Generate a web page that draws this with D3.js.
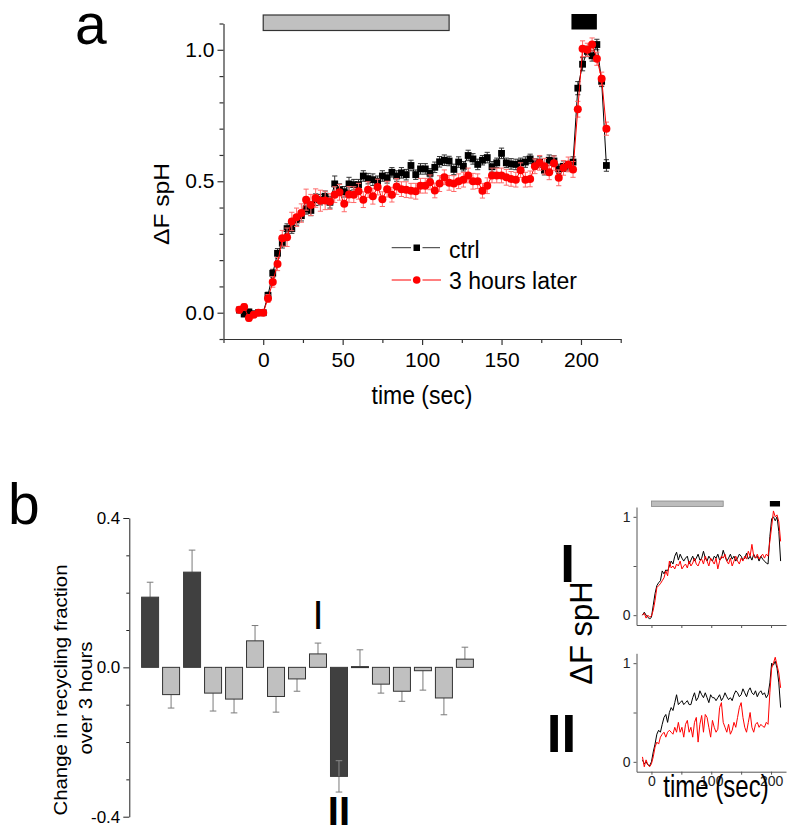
<!DOCTYPE html>
<html><head><meta charset="utf-8">
<script src="https://cdn.jsdelivr.net/npm/d3@7/dist/d3.min.js"></script>
<style>body{margin:0;background:#fff} svg{display:block} text{font-family:"Liberation Sans",Arial,Helvetica,sans-serif}</style>
</head><body><svg id="c" width="800" height="837"></svg>
<script>
// ---------- DATA ----------
const time = [-15,-12,-9,-6,-3,0,3,6,9,12,
  15,18,21,24,27,30,33,36,39,42,
  45,48,51,54,57,60,63,66,69,72,
  75,78,81,84,87,90,93,96,99,102,
  105,108,111,114,117,120,123,126,129,132,
  135,138,141,144,147,150,153,156,159,162,
  165,168,171,174,177,180,183,186,189,192,
  195,198,201,204,207,210,213,216];
const ctrl = [0.010,-0.005,0.003,-0.004,0.000,0.000,0.066,0.150,0.226,0.264,
  0.320,0.320,0.353,0.369,0.395,0.389,0.430,0.430,0.443,0.420,
  0.490,0.468,0.460,0.490,0.487,0.487,0.520,0.510,0.506,0.500,
  0.520,0.513,0.534,0.520,0.532,0.525,0.560,0.525,0.547,0.547,
  0.530,0.553,0.574,0.580,0.577,0.545,0.573,0.557,0.598,0.585,
  0.564,0.580,0.590,0.555,0.570,0.606,0.570,0.566,0.564,0.570,
  0.573,0.585,0.566,0.573,0.542,0.580,0.577,0.547,0.557,0.557,
  0.573,0.854,0.945,0.994,0.977,1.020,0.880,0.560];
const ctrlErr = [0.010,0.010,0.010,0.008,0.008,0.008,0.012,0.015,0.018,0.018,
  0.018,0.018,0.020,0.020,0.020,0.020,0.022,0.020,0.020,0.022,
  0.030,0.022,0.020,0.025,0.020,0.020,0.020,0.020,0.022,0.020,
  0.020,0.020,0.018,0.020,0.020,0.020,0.020,0.018,0.020,0.020,
  0.018,0.020,0.020,0.020,0.018,0.020,0.020,0.018,0.020,0.020,
  0.020,0.018,0.020,0.020,0.018,0.020,0.018,0.020,0.020,0.018,
  0.020,0.018,0.020,0.020,0.018,0.020,0.020,0.018,0.020,0.018,
  0.020,0.025,0.025,0.020,0.020,0.020,0.020,0.022];
const later = [0.011,0.022,-0.020,-0.008,0.000,0.000,0.054,0.117,0.185,0.283,
  0.287,0.347,0.363,0.379,0.430,0.410,0.436,0.426,0.427,0.423,
  0.449,0.458,0.414,0.450,0.449,0.462,0.430,0.468,0.443,0.478,
  0.432,0.470,0.449,0.480,0.470,0.468,0.464,0.462,0.483,0.483,
  0.496,0.465,0.491,0.515,0.494,0.491,0.500,0.506,0.522,0.500,
  0.500,0.464,0.483,0.522,0.522,0.522,0.515,0.509,0.506,0.542,
  0.506,0.509,0.557,0.570,0.557,0.534,0.568,0.513,0.551,0.564,
  0.545,0.774,1.004,1.000,1.020,0.966,0.890,0.700];
const laterErr = [0.012,0.012,0.012,0.010,0.010,0.010,0.015,0.020,0.025,0.030,
  0.035,0.035,0.035,0.035,0.040,0.040,0.035,0.040,0.035,0.030,
  0.030,0.030,0.030,0.030,0.030,0.030,0.030,0.030,0.030,0.030,
  0.028,0.030,0.028,0.030,0.028,0.030,0.028,0.030,0.028,0.028,
  0.028,0.028,0.030,0.028,0.028,0.030,0.028,0.028,0.028,0.030,
  0.028,0.028,0.030,0.028,0.028,0.028,0.030,0.028,0.028,0.028,
  0.028,0.030,0.028,0.028,0.030,0.028,0.028,0.030,0.028,0.028,
  0.030,0.030,0.030,0.025,0.025,0.025,0.025,0.025];

const yTicksA = [0.0, 0.5, 1.0];
const xTicksA = [0, 50, 100, 150, 200];

// panel b
const cells = ["c1","c2","c3","c4","c5","c6","c7","c8","c9","c10","c11","c12","c13","c14","c15","c16"];
const change = [0.188,-0.073,0.255,-0.069,-0.085,0.071,-0.078,-0.031,0.036,-0.292,0.002,-0.045,-0.064,-0.009,-0.082,0.022];
const changeErr = [0.040,0.036,0.059,0.048,0.037,0.041,0.042,0.033,0.029,0.042,0.045,0.024,0.027,0.052,0.045,0.032];
const significant = [true,false,true,false,false,false,false,false,false,true,false,false,false,false,false,false];
const yTicksB = [-0.4, 0.0, 0.4];

// insets (example cells I and II)
const insetTopCtrl = [0.00,0.03,0.00,-0.02,-0.04,-0.02,0.10,0.22,0.30,0.33,
  0.35,0.45,0.42,0.46,0.45,0.50,0.55,0.52,0.60,0.64,
  0.56,0.62,0.58,0.55,0.58,0.60,0.52,0.56,0.60,0.55,
  0.58,0.62,0.56,0.58,0.65,0.58,0.55,0.60,0.57,0.55,
  0.60,0.58,0.62,0.56,0.58,0.66,0.60,0.55,0.58,0.62,
  0.57,0.60,0.55,0.58,0.62,0.60,0.56,0.58,0.63,0.57,
  0.60,0.56,0.62,0.58,0.60,0.55,0.60,0.57,0.55,0.53,
  0.52,0.80,0.98,1.00,0.96,1.00,0.85,0.55];
const insetTopLater = [0.00,0.02,-0.03,0.00,-0.02,-0.01,0.05,0.15,0.28,0.30,
  0.32,0.35,0.38,0.45,0.40,0.55,0.48,0.50,0.47,0.52,
  0.50,0.55,0.47,0.50,0.52,0.48,0.55,0.50,0.53,0.58,
  0.52,0.50,0.55,0.57,0.52,0.60,0.55,0.50,0.58,0.55,
  0.52,0.58,0.47,0.55,0.60,0.58,0.62,0.55,0.52,0.58,
  0.50,0.55,0.60,0.55,0.52,0.58,0.55,0.60,0.57,0.65,
  0.60,0.72,0.60,0.58,0.62,0.57,0.60,0.62,0.58,0.62,
  0.60,0.75,0.90,1.06,1.00,1.02,0.95,0.75];
const insetBotCtrl = [0.02,-0.02,0.00,-0.03,-0.04,0.00,0.10,0.18,0.28,0.32,
  0.30,0.38,0.45,0.48,0.40,0.50,0.55,0.52,0.60,0.68,
  0.58,0.60,0.62,0.58,0.60,0.62,0.58,0.58,0.65,0.70,
  0.62,0.65,0.72,0.68,0.65,0.70,0.65,0.60,0.68,0.65,
  0.65,0.62,0.65,0.68,0.62,0.65,0.70,0.66,0.63,0.65,
  0.62,0.68,0.72,0.70,0.66,0.68,0.74,0.70,0.66,0.72,
  0.75,0.70,0.68,0.72,0.66,0.70,0.72,0.68,0.70,0.65,
  0.68,0.80,1.00,0.98,1.02,0.95,0.80,0.55];
const insetBotLater = [0.05,-0.05,0.02,-0.03,-0.05,-0.02,0.05,0.15,0.20,0.18,
  0.25,0.28,0.30,0.25,0.30,0.32,0.30,0.28,0.35,0.30,
  0.40,0.30,0.35,0.25,0.38,0.42,0.30,0.35,0.25,0.40,
  0.45,0.20,0.38,0.47,0.30,0.48,0.45,0.35,0.25,0.42,
  0.35,0.30,0.33,0.55,0.60,0.40,0.35,0.30,0.38,0.28,
  0.32,0.40,0.35,0.45,0.55,0.60,0.45,0.35,0.30,0.40,
  0.50,0.35,0.30,0.38,0.40,0.35,0.38,0.36,0.35,0.40,
  0.38,0.70,0.95,1.00,1.06,0.98,0.90,0.75];

const stimGray = [0, 117];
const stimBlack = [194, 210];

// ---------- DRAW ----------
const svg = d3.select("#c");
const BLACK = "#000", RED = "#ff0000", RED_ERR = "#ff6a6a";

function label(parent, x, y, str, o) {
  o = o || {};
  const g = parent.append("g")
    .attr("transform", `translate(${x},${y}) scale(${o.sx||1},${o.sy||1})${o.rot ? ` rotate(${o.rot})` : ""}`);
  const t = g.append("text").attr("x", 0).attr("y", 0)
    .attr("text-anchor", o.anchor || "middle")
    .attr("font-size", o.size || 16)
    .attr("font-weight", o.weight || "normal")
    .attr("fill", o.fill || "#000")
    .text(str);
  return t;
}

// ===== Panel a =====
const xA = d3.scaleLinear().domain([-25, 225]).range([223.5, 620.7]);
const yA = d3.scaleLinear().domain([-0.1, 1.1]).range([339, 23.5]);
const gA = svg.append("g");

// axes
gA.append("g").attr("transform", `translate(0,${yA(-0.1)})`)
  .call(d3.axisBottom(xA).tickValues(xTicksA).tickSize(6).tickSizeOuter(0).tickPadding(7).tickFormat(d3.format("d")));
gA.append("g").attr("transform", `translate(0,${yA(-0.1)})`)
  .call(d3.axisBottom(xA).tickValues([-25,25,75,125,175,225]).tickSize(4).tickSizeOuter(0).tickFormat(""))
  .select(".domain").remove();
gA.append("g").attr("transform", `translate(${xA(-25)},0)`)
  .call(d3.axisLeft(yA).tickValues(yTicksA).tickSize(6).tickSizeOuter(0).tickPadding(3).tickFormat(d => d.toFixed(1)));
gA.append("g").attr("transform", `translate(${xA(-25)},0)`)
  .call(d3.axisLeft(yA).tickValues([-0.1,0.1,0.2,0.3,0.4,0.6,0.7,0.8,0.9,1.1]).tickSize(4).tickSizeOuter(0).tickFormat(""))
  .select(".domain").remove();
gA.selectAll(".tick text").attr("font-size", 21).attr("font-family", '"Liberation Sans",Arial,sans-serif').attr("fill", "#000");
gA.selectAll(".domain, .tick line").attr("stroke", "#333").attr("stroke-width", 1.2);

// stimulus bars
gA.append("rect").attr("x", xA(stimGray[0])).attr("y", 15).attr("width", xA(stimGray[1]) - xA(stimGray[0])).attr("height", 15.5)
  .attr("fill", "#c0c0c0").attr("stroke", "#333").attr("stroke-width", 1.2);
gA.append("rect").attr("x", xA(stimBlack[0])).attr("y", 14).attr("width", xA(stimBlack[1]) - xA(stimBlack[0])).attr("height", 15.5)
  .attr("fill", "#000");

function series(g, vals, errs, color, errColor, marker) {
  const pts = time.map((t, i) => ({t, v: vals[i], e: errs[i]}));
  const eb = g.append("g").attr("stroke", errColor).attr("stroke-width", 1);
  pts.forEach(p => {
    eb.append("line").attr("x1", xA(p.t)).attr("x2", xA(p.t)).attr("y1", yA(p.v - p.e)).attr("y2", yA(p.v + p.e));
    eb.append("line").attr("x1", xA(p.t) - 2.6).attr("x2", xA(p.t) + 2.6).attr("y1", yA(p.v - p.e)).attr("y2", yA(p.v - p.e));
    eb.append("line").attr("x1", xA(p.t) - 2.6).attr("x2", xA(p.t) + 2.6).attr("y1", yA(p.v + p.e)).attr("y2", yA(p.v + p.e));
  });
  g.append("path").datum(pts).attr("fill", "none").attr("stroke", color).attr("stroke-width", 1)
    .attr("d", d3.line().x(d => xA(d.t)).y(d => yA(d.v)));
  if (marker === "square") {
    g.selectAll("rect.m").data(pts).join("rect").attr("class", "m")
      .attr("x", d => xA(d.t) - 3.4).attr("y", d => yA(d.v) - 3.4).attr("width", 6.8).attr("height", 6.8).attr("fill", color);
  } else {
    g.selectAll("circle.m").data(pts).join("circle").attr("class", "m")
      .attr("cx", d => xA(d.t)).attr("cy", d => yA(d.v)).attr("r", 4).attr("fill", color);
  }
}
series(gA.append("g"), ctrl, ctrlErr, BLACK, "#333", "square");
series(gA.append("g"), later, laterErr, RED, RED_ERR, "circle");

// legend
const lg = gA.append("g");
lg.append("line").attr("x1", 391.7).attr("x2", 411).attr("y1", 247.7).attr("y2", 247.7).attr("stroke", "#333");
lg.append("line").attr("x1", 422.5).attr("x2", 440).attr("y1", 247.7).attr("y2", 247.7).attr("stroke", "#333");
lg.append("rect").attr("x", 413.5).attr("y", 244.5).attr("width", 6.5).attr("height", 6.5).attr("fill", "#000");
lg.append("line").attr("x1", 391.7).attr("x2", 411).attr("y1", 280).attr("y2", 280).attr("stroke", RED);
lg.append("line").attr("x1", 422.5).attr("x2", 441).attr("y1", 280).attr("y2", 280).attr("stroke", RED);
lg.append("circle").attr("cx", 416.7).attr("cy", 280).attr("r", 3.8).attr("fill", RED);
label(lg, 449, 258, "ctrl", {size: 23, anchor: "start"});
label(lg, 449, 288.5, "3 hours later", {size: 23, anchor: "start"});

// axis titles
label(gA, 422, 404, "time (sec)", {size: 23, sy: 1.1});
label(gA, 169, 204, "\u0394F spH", {size: 22, rot: -90, sy: 1.12});
label(svg, 75, 44, "a", {size: 57, anchor: "start"});

// ===== Panel b =====
const gB = svg.append("g");
const xB = d3.scaleBand().domain(cells).range([139.6, 475.4]).paddingInner(0.19).paddingOuter(0.095);
const yB = d3.scaleLinear().domain([-0.4, 0.4]).range([816.7, 518]);
gB.append("g").attr("transform", "translate(129.3,0)")
  .call(d3.axisLeft(yB).tickValues(yTicksB).tickSize(6).tickSizeOuter(0).tickPadding(3).tickFormat(d => d.toFixed(1)));
gB.append("g").attr("transform", "translate(129.3,0)")
  .call(d3.axisLeft(yB).tickValues([-0.3,-0.2,-0.1,0.1,0.2,0.3]).tickSize(3).tickFormat(""))
  .select(".domain").remove();
gB.selectAll(".tick text").attr("font-size", 17).attr("fill", "#000");
gB.selectAll(".domain, .tick line").attr("stroke", "#222").attr("stroke-width", 1);

const bars = cells.map((c, i) => ({c, v: change[i], e: changeErr[i], sig: significant[i]}));
const ebB = gB.append("g").attr("stroke", "#7a7a7a").attr("stroke-width", 1);
bars.forEach(b => {
  const cx = xB(b.c) + xB.bandwidth() / 2;
  const s = b.v >= 0 ? 1 : -1;
  const end = b.v + s * b.e;
  ebB.append("line").attr("x1", cx).attr("x2", cx).attr("y1", yB(b.v)).attr("y2", yB(end));
  ebB.append("line").attr("x1", cx - 3.3).attr("x2", cx + 3.3).attr("y1", yB(end)).attr("y2", yB(end));
});
gB.selectAll("rect.bar").data(bars).join("rect").attr("class", "bar")
  .attr("x", d => xB(d.c)).attr("width", xB.bandwidth())
  .attr("y", d => yB(Math.max(d.v, 0))).attr("height", d => Math.max(1, Math.abs(yB(d.v) - yB(0))))
  .attr("fill", d => d.sig ? "#404040" : "#c0c0c0")
  .attr("stroke", d => d.sig ? "#3a3a3a" : "#333").attr("stroke-width", 1);
// inner half of error bar visible on the large negative bar
bars.filter(b => b.sig && b.v < 0).forEach(b => {
  const cx = xB(b.c) + xB.bandwidth() / 2;
  const top = b.v + b.e;
  gB.append("line").attr("x1", cx).attr("x2", cx).attr("y1", yB(b.v)).attr("y2", yB(top)).attr("stroke", "#8a8a8a");
  gB.append("line").attr("x1", cx - 3.3).attr("x2", cx + 3.3).attr("y1", yB(top)).attr("y2", yB(top)).attr("stroke", "#8a8a8a");
});

label(gB, xB("c9") + xB.bandwidth() / 2, 629, "I", {size: 40});
label(gB, xB("c10") + xB.bandwidth() / 2, 825, "II", {size: 40, weight: "bold"});

label(gB, 67, 690, "Change in recycling fraction", {size: 18.5, rot: -90, sx: 0.95, sy: 1.1});
label(gB, 92, 698, "over 3 hours", {size: 18.5, rot: -90, sx: 0.95, sy: 1.1});
label(svg, 8, 524, "b", {size: 57, anchor: "start"});

// ===== Insets =====
const xI = d3.scaleLinear().domain([-25, 225]).range([636.5, 786]);
function inset(y0, y1, cVals, lVals, showX, showStim) {
  const yI = d3.scaleLinear().domain([-0.1, 1.1]).range([y1, y0]);
  const g = svg.append("g");
  g.append("g").attr("transform", `translate(0,${y1})`)
    .call(d3.axisBottom(xI).tickValues([0,50,100,150,200]).tickSize(3).tickSizeOuter(0)
      .tickFormat(d => showX && d % 100 === 0 ? d : "").tickPadding(1));
  g.append("g").attr("transform", `translate(${xI(-25)},0)`)
    .call(d3.axisLeft(yI).tickValues([0, 0.5, 1]).tickSize(3).tickSizeOuter(0)
      .tickFormat(d => d === 0.5 ? "" : d3.format("d")(d)).tickPadding(3));
  g.selectAll(".tick text").attr("font-size", 14).attr("fill", "#222");
  g.selectAll(".domain, .tick line").attr("stroke", "#555").attr("stroke-width", 1);
  const line = d3.line().x((d, i) => xI(time[i])).y(d => yI(d));
  g.append("path").datum(cVals).attr("fill", "none").attr("stroke", "#000").attr("stroke-width", 1).attr("d", line);
  g.append("path").datum(lVals).attr("fill", "none").attr("stroke", RED).attr("stroke-width", 1).attr("d", line);
  if (showStim) {
    g.append("rect").attr("x", xI(stimGray[0])).attr("y", y0 - 6).attr("width", xI(120) - xI(stimGray[0])).attr("height", 5.5)
      .attr("fill", "#bdbdbd").attr("stroke", "#888").attr("stroke-width", 0.8);
    g.append("rect").attr("x", xI(198)).attr("y", y0 - 6).attr("width", xI(215) - xI(198)).attr("height", 5.5).attr("fill", "#000");
  }
  return g;
}
inset(507, 625, insetTopCtrl, insetTopLater, false, true);
inset(653.3, 771.7, insetBotCtrl, insetBotLater, true, false);

label(svg, 592, 633, "\u0394F spH", {size: 31, rot: -90});
label(svg, 567.5, 581.7, "I", {size: 53, weight: "bold"});
label(svg, 561.5, 752, "II", {size: 53, weight: "bold"});
label(svg, 716, 797, "time (sec)", {size: 24, sy: 1.3});
</script>
</body></html>
